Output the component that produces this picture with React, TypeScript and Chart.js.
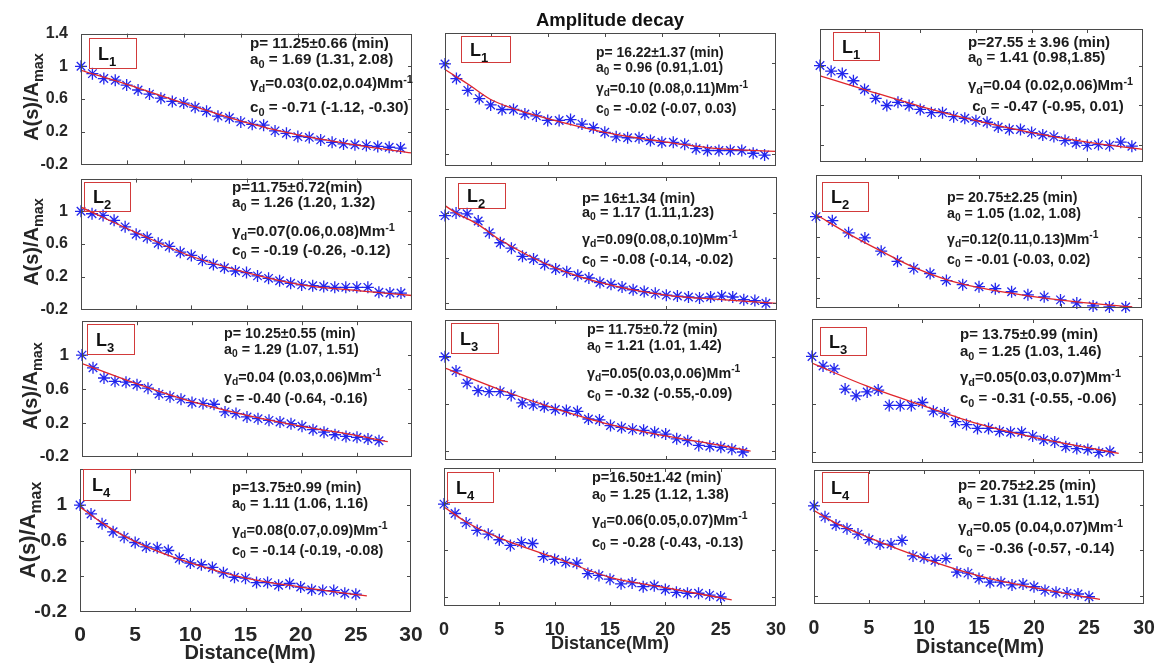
import React, { useEffect, useRef } from 'react';
import { Chart, registerables } from 'chart.js';

Chart.register(...registerables);

const FF = "'Liberation Sans', Arial, Helvetica, sans-serif";

// ---------- distances (Mm) ----------
const dist1to29 = [1, 2, 3, 4, 5, 6, 7, 8, 9, 10, 11, 12, 13, 14, 15, 16, 17, 18, 19, 20, 21, 22, 23, 24, 25, 26, 27, 28, 29];
const dist0to29 = [0, 1, 2, 3, 4, 5, 6, 7, 8, 9, 10, 11, 12, 13, 14, 15, 16, 17, 18, 19, 20, 21, 22, 23, 24, 25, 26, 27, 28, 29];
const dist0to19 = [0, 1, 2, 3, 4, 5, 6, 7, 8, 9, 10, 11, 12, 13, 14, 15, 16, 17, 18, 19];
const dist0to27 = [0, 1, 2, 3, 4, 5, 6, 7, 8, 9, 10, 11, 12, 13, 14, 15, 16, 17, 18, 19, 20, 21, 22, 23, 24, 25, 26, 27];
const dist0to25 = [0, 1, 2, 3, 4, 5, 6, 7, 8, 9, 10, 11, 12, 13, 14, 15, 16, 17, 18, 19, 20, 21, 22, 23, 24, 25];

// ---------- normalised amplitudes A(s)/Amax ----------
const ampR1L = [1.00, 0.91, 0.85, 0.83, 0.77, 0.71, 0.66, 0.61, 0.57, 0.55, 0.50, 0.45, 0.39, 0.37, 0.32, 0.29, 0.28, 0.21, 0.18, 0.14, 0.13, 0.10, 0.07, 0.05, 0.04, 0.03, 0.02, 0.01, 0.00];
const ampR1M = [0.99, 0.83, 0.70, 0.61, 0.54, 0.49, 0.49, 0.44, 0.42, 0.37, 0.37, 0.38, 0.33, 0.29, 0.24, 0.19, 0.18, 0.18, 0.15, 0.13, 0.13, 0.11, 0.06, 0.04, 0.04, 0.04, 0.04, 0.01, -0.01];
const ampR1R = [1.00, 0.93, 0.90, 0.81, 0.70, 0.59, 0.50, 0.54, 0.50, 0.45, 0.41, 0.41, 0.36, 0.34, 0.31, 0.29, 0.23, 0.20, 0.20, 0.16, 0.13, 0.11, 0.06, 0.03, 0.00, 0.01, 0.00, 0.04, -0.01];
const ampR2L = [1.00, 0.97, 0.95, 0.89, 0.81, 0.72, 0.68, 0.61, 0.57, 0.50, 0.46, 0.40, 0.35, 0.31, 0.27, 0.25, 0.21, 0.18, 0.15, 0.12, 0.10, 0.09, 0.08, 0.07, 0.07, 0.07, 0.07, 0.01, 0.00, 0.00];
const ampR2M = [0.97, 1.00, 0.99, 0.91, 0.78, 0.67, 0.61, 0.52, 0.49, 0.43, 0.38, 0.35, 0.31, 0.28, 0.23, 0.21, 0.18, 0.15, 0.13, 0.11, 0.09, 0.08, 0.07, 0.06, 0.07, 0.08, 0.07, 0.04, 0.03, 0.00];
const ampR2R = [1.00, 0.96, 0.84, 0.79, 0.66, 0.56, 0.49, 0.44, 0.37, 0.33, 0.31, 0.29, 0.26, 0.23, 0.21, 0.18, 0.15, 0.12, 0.11, 0.11];
const ampR3L = [1.00, 0.85, 0.73, 0.69, 0.68, 0.65, 0.61, 0.54, 0.51, 0.48, 0.44, 0.43, 0.42, 0.33, 0.31, 0.27, 0.25, 0.23, 0.21, 0.19, 0.16, 0.12, 0.09, 0.06, 0.04, 0.03, 0.01, -0.01];
const ampR3M = [1.00, 0.85, 0.72, 0.64, 0.63, 0.63, 0.59, 0.51, 0.49, 0.47, 0.44, 0.43, 0.42, 0.34, 0.33, 0.27, 0.25, 0.23, 0.22, 0.20, 0.18, 0.13, 0.11, 0.06, 0.05, 0.04, 0.02, -0.01];
const ampR3R = [1.00, 0.90, 0.87, 0.66, 0.59, 0.63, 0.65, 0.49, 0.49, 0.49, 0.52, 0.43, 0.41, 0.32, 0.29, 0.25, 0.25, 0.22, 0.21, 0.21, 0.17, 0.13, 0.11, 0.06, 0.04, 0.03, 0.00, 0.01];
const ampR4L = [1.00, 0.90, 0.79, 0.70, 0.64, 0.58, 0.53, 0.52, 0.49, 0.40, 0.35, 0.33, 0.30, 0.24, 0.19, 0.18, 0.13, 0.13, 0.10, 0.12, 0.08, 0.05, 0.04, 0.04, 0.01, 0.00];
const ampR4M = [0.99, 0.89, 0.79, 0.71, 0.67, 0.61, 0.55, 0.58, 0.57, 0.43, 0.40, 0.37, 0.36, 0.25, 0.23, 0.19, 0.14, 0.15, 0.11, 0.12, 0.08, 0.05, 0.04, 0.04, 0.02, 0.00];
const ampR4R = [0.99, 0.87, 0.78, 0.74, 0.68, 0.62, 0.57, 0.57, 0.61, 0.44, 0.42, 0.39, 0.41, 0.26, 0.25, 0.19, 0.15, 0.15, 0.12, 0.13, 0.10, 0.06, 0.04, 0.03, 0.02, -0.01];

// ---------- fitted curves ----------
const fitXR1L = [1, 5, 10, 15, 20, 25, 30];
const fitYR1L = [0.95, 0.78, 0.55, 0.33, 0.16, 0.04, -0.06];
const fitXR1M = [1, 2, 3, 5, 7, 10, 15, 20, 25, 30];
const fitYR1M = [0.93, 0.85, 0.77, 0.60, 0.50, 0.39, 0.24, 0.14, 0.06, 0.03];
const fitXR1R = [1, 5, 10, 15, 20, 25, 30];
const fitYR1R = [0.87, 0.70, 0.49, 0.31, 0.16, 0.04, -0.05];
const fitXR2L = [0, 5, 10, 15, 20, 25, 30];
const fitYR2L = [1.05, 0.74, 0.45, 0.25, 0.10, 0.03, -0.03];
const fitXR2M = [0, 1, 3, 5, 10, 15, 20, 25, 30];
const fitYR2M = [1.08, 1.00, 0.87, 0.70, 0.39, 0.20, 0.09, 0.04, 0.00];
const fitXR2R = [0, 2, 4, 6, 8, 10, 13, 16, 19.4];
const fitYR2R = [1.02, 0.83, 0.66, 0.50, 0.38, 0.30, 0.22, 0.16, 0.11];
const fitXR3L = [0, 5, 10, 15, 20, 25, 27.8];
const fitYR3L = [0.90, 0.66, 0.45, 0.29, 0.16, 0.05, -0.02];
const fitXR3M = [0, 5, 10, 15, 20, 25, 27.7];
const fitYR3M = [0.88, 0.65, 0.45, 0.28, 0.16, 0.06, 0.00];
const fitXR3R = [0, 5, 10, 15, 20, 25, 27.8];
const fitYR3R = [0.93, 0.69, 0.49, 0.30, 0.16, 0.05, -0.01];
const fitXR4L = [0, 2, 5, 10, 15, 20, 26];
const fitYR4L = [0.98, 0.80, 0.59, 0.35, 0.18, 0.08, -0.02];
const fitXR4M = [0, 2, 5, 10, 15, 20, 26];
const fitYR4M = [0.96, 0.80, 0.63, 0.42, 0.21, 0.10, -0.03];
const fitXR4R = [0, 2, 5, 10, 15, 20, 26];
const fitYR4R = [0.94, 0.80, 0.64, 0.41, 0.22, 0.09, -0.04];

// ---------- ticks ----------
const yTicksLeft = [-0.2, 0.2, 0.6, 1, 1.4];
const yTicksHalf = [0, 0.5, 1];
const yTicksFifth = [0.2, 0.4, 0.6, 0.8, 1];
const xTicksFives = [5, 10, 15, 20, 25];
const xTicksTens = [10, 20];
const xTicksShort = [5, 10, 15];
const xTicksLabelled = [0, 5, 10, 15, 20, 25, 30];

// ---------- fit annotations ----------
const notesR1L = ['p= 11.25±0.66 (min)', ' = 1.69 (1.31, 2.08)', '=0.03(0.02,0.04)Mm', ' = -0.71 (-1.12, -0.30)'];
const notesR1M = ['p= 16.22±1.37 (min)', ' = 0.96 (0.91,1.01)', '=0.10 (0.08,0.11)Mm', ' = -0.02 (-0.07, 0.03)'];
const notesR1R = ['p=27.55 ± 3.96 (min)', ' = 1.41 (0.98,1.85)', '=0.04 (0.02,0.06)Mm', ' = -0.47 (-0.95, 0.01)'];
const notesR2L = ['p=11.75±0.72(min)', ' = 1.26 (1.20, 1.32)', '=0.07(0.06,0.08)Mm', ' = -0.19 (-0.26, -0.12)'];
const notesR2M = ['p= 16±1.34 (min)', ' = 1.17 (1.11,1.23)', '=0.09(0.08,0.10)Mm', ' = -0.08 (-0.14, -0.02)'];
const notesR2R = ['p= 20.75±2.25 (min)', ' = 1.05 (1.02, 1.08)', '=0.12(0.11,0.13)Mm', ' = -0.01 (-0.03, 0.02)'];
const notesR3L = ['p= 10.25±0.55 (min)', ' = 1.29 (1.07, 1.51)', '=0.04 (0.03,0.06)Mm', ' = -0.40 (-0.64, -0.16)'];
const notesR3M = ['p= 11.75±0.72 (min)', ' = 1.21 (1.01, 1.42)', '=0.05(0.03,0.06)Mm', ' = -0.32 (-0.55,-0.09)'];
const notesR3R = ['p= 13.75±0.99 (min)', ' = 1.25 (1.03, 1.46)', '=0.05(0.03,0.07)Mm', ' = -0.31 (-0.55, -0.06)'];
const notesR4L = ['p=13.75±0.99 (min)', ' = 1.11 (1.06, 1.16)', '=0.08(0.07,0.09)Mm', ' = -0.14 (-0.19, -0.08)'];
const notesR4M = ['p=16.50±1.42 (min)', ' = 1.25 (1.12, 1.38)', '=0.06(0.05,0.07)Mm', ' = -0.28 (-0.43, -0.13)'];
const notesR4R = ['p= 20.75±2.25 (min)', ' = 1.31 (1.12, 1.51)', '=0.05 (0.04,0.07)Mm', ' = -0.36 (-0.57, -0.14)'];

const loopLabels = ['1', '2', '3', '4'];

type PanelDef = {
  row: number; col: number;
  L: number; T: number; R: number; B: number;
  xMin: number; xMax: number; yMin: number; yMax: number;
  xs: number[]; ys: number[]; fitX: number[]; fitY: number[];
  xTicks: number[]; yTicks: number[];
  notes: string[]; noteX: number; noteY: number[]; noteSize: number;
  cLetter: string; cSub: string;
  box: number[];
};

const panels: PanelDef[] = [
  { row: 0, col: 0, L: 81, T: 33, R: 412, B: 167, xMin: 1, xMax: 30, yMin: -0.2, yMax: 1.4, xs: dist1to29, ys: ampR1L, fitX: fitXR1L, fitY: fitYR1L, xTicks: xTicksFives, yTicks: yTicksLeft, notes: notesR1L, noteX: 250, noteY: [43, 59, 83, 107], noteSize: 15.2, cLetter: 'c', cSub: '0', box: [89, 38, 137, 69] },
  { row: 0, col: 1, L: 445, T: 33, R: 776, B: 166, xMin: 1, xMax: 30, yMin: -0.13, yMax: 1.33, xs: dist1to29, ys: ampR1M, fitX: fitXR1M, fitY: fitYR1M, xTicks: xTicksFives, yTicks: yTicksHalf, notes: notesR1M, noteX: 596, noteY: [52, 67, 88, 108], noteSize: 13.9, cLetter: 'c', cSub: '0', box: [461, 36, 511, 63] },
  { row: 0, col: 2, L: 820, T: 29, R: 1143, B: 162, xMin: 1, xMax: 30, yMin: -0.208, yMax: 1.458, xs: dist1to29, ys: ampR1R, fitX: fitXR1R, fitY: fitYR1R, xTicks: xTicksFives, yTicks: yTicksHalf, notes: notesR1R, noteX: 968, noteY: [42, 57, 85, 106], noteSize: 15, cLetter: ' c', cSub: '0', box: [833, 32, 880, 61] },
  { row: 1, col: 0, L: 81, T: 178, R: 412, B: 312, xMin: 0, xMax: 30, yMin: -0.2, yMax: 1.4, xs: dist0to29, ys: ampR2L, fitX: fitXR2L, fitY: fitYR2L, xTicks: xTicksFives, yTicks: yTicksLeft, notes: notesR2L, noteX: 232, noteY: [187, 202, 231, 250], noteSize: 15.2, cLetter: 'c', cSub: '0', box: [84, 182, 131, 212] },
  { row: 1, col: 1, L: 445, T: 177, R: 777, B: 310, xMin: 0, xMax: 30, yMin: -0.074, yMax: 1.397, xs: dist0to29, ys: ampR2M, fitX: fitXR2M, fitY: fitYR2M, xTicks: xTicksTens, yTicks: yTicksHalf, notes: notesR2M, noteX: 582, noteY: [198, 212, 239, 259], noteSize: 14.5, cLetter: 'c', cSub: '0', box: [458, 183, 506, 209] },
  { row: 1, col: 2, L: 816, T: 175, R: 1142, B: 308, xMin: 0, xMax: 20, yMin: 0.10, yMax: 1.41, xs: dist0to19, ys: ampR2R, fitX: fitXR2R, fitY: fitYR2R, xTicks: xTicksShort, yTicks: yTicksFifth, notes: notesR2R, noteX: 947, noteY: [197, 213, 239, 259], noteSize: 14.2, cLetter: 'c', cSub: '0', box: [822, 182, 869, 212] },
  { row: 2, col: 0, L: 82, T: 320, R: 412, B: 460, xMin: 0, xMax: 30, yMin: -0.2, yMax: 1.4, xs: dist0to27, ys: ampR3L, fitX: fitXR3L, fitY: fitYR3L, xTicks: xTicksFives, yTicks: yTicksLeft, notes: notesR3L, noteX: 224, noteY: [333, 349, 377, 398], noteSize: 14.3, cLetter: 'c', cSub: '', box: [87, 324, 135, 355] },
  { row: 2, col: 1, L: 445, T: 320, R: 776, B: 460, xMin: 0, xMax: 30, yMin: -0.095, yMax: 1.39, xs: dist0to27, ys: ampR3M, fitX: fitXR3M, fitY: fitYR3M, xTicks: xTicksTens, yTicks: yTicksHalf, notes: notesR3M, noteX: 587, noteY: [329, 345, 373, 393], noteSize: 14.3, cLetter: 'c', cSub: '0', box: [451, 323, 499, 354] },
  { row: 2, col: 2, L: 812, T: 319, R: 1143, B: 463, xMin: 0, xMax: 30, yMin: -0.11, yMax: 1.39, xs: dist0to27, ys: ampR3R, fitX: fitXR3R, fitY: fitYR3R, xTicks: xTicksTens, yTicks: yTicksHalf, notes: notesR3R, noteX: 960, noteY: [334, 351, 377, 398], noteSize: 15, cLetter: 'c', cSub: '0', box: [820, 327, 867, 356] },
  { row: 3, col: 0, L: 80, T: 467, R: 411, B: 612, xMin: 0, xMax: 30, yMin: -0.2, yMax: 1.4, xs: dist0to25, ys: ampR4L, fitX: fitXR4L, fitY: fitYR4L, xTicks: xTicksLabelled, yTicks: yTicksLeft, notes: notesR4L, noteX: 232, noteY: [487, 503, 530, 550], noteSize: 14.5, cLetter: 'c', cSub: '0', box: [83, 469, 131, 501] },
  { row: 3, col: 1, L: 444, T: 468, R: 776, B: 606, xMin: 0, xMax: 30, yMin: -0.096, yMax: 1.375, xs: dist0to25, ys: ampR4M, fitX: fitXR4M, fitY: fitYR4M, xTicks: xTicksLabelled, yTicks: yTicksHalf, notes: notesR4M, noteX: 592, noteY: [477, 494, 520, 542], noteSize: 14.5, cLetter: 'c', cSub: '0', box: [447, 472, 494, 503] },
  { row: 3, col: 2, L: 814, T: 470, R: 1144, B: 604, xMin: 0, xMax: 30, yMin: -0.09, yMax: 1.386, xs: dist0to25, ys: ampR4R, fitX: fitXR4R, fitY: fitYR4R, xTicks: xTicksLabelled, yTicks: yTicksHalf, notes: notesR4R, noteX: 958, noteY: [485, 500, 527, 548], noteSize: 15, cLetter: 'c', cSub: '0', box: [822, 472, 869, 503] },
];

// per-row font size of the left y tick labels, per-column bottom tick label size
const yLabelSize = [16, 16, 17, 19];
const xLabelSize = [21, 18, 19.5];
const xLabelPad = [3, 5, 5];
const yTitle = [
  { cx: 31, cy: 97, size: 20 },
  { cx: 31, cy: 242, size: 20 },
  { cx: 30, cy: 386, size: 20 },
  { cx: 28, cy: 530, size: 22 },
];
const xTitle = [
  { cx: 250, cy: 652, size: 20 },
  { cx: 610, cy: 643, size: 18 },
  { cx: 980, cy: 647, size: 19.5 },
];

const matlabBox = {
  id: 'matlabBox',
  afterDatasetsDraw(chart: any) {
    const { ctx, chartArea: a, scales } = chart;
    const xs = scales.x;
    const ys = scales.y;
    const tl = 4;
    ctx.save();
    ctx.strokeStyle = '#4a4a4a';
    ctx.lineWidth = 1;
    ctx.strokeRect(Math.round(a.left) + 0.5, Math.round(a.top) + 0.5, Math.round(a.right - a.left) - 1, Math.round(a.bottom - a.top) - 1);
    ctx.beginPath();
    xs.ticks.forEach((t: any) => {
      if (t.value <= xs.min || t.value >= xs.max) return;
      const px = Math.round(xs.getPixelForValue(t.value)) + 0.5;
      ctx.moveTo(px, a.bottom);
      ctx.lineTo(px, a.bottom - tl);
      ctx.moveTo(px, a.top);
      ctx.lineTo(px, a.top + tl);
    });
    ys.ticks.forEach((t: any) => {
      if (t.value <= ys.min || t.value >= ys.max) return;
      const py = Math.round(ys.getPixelForValue(t.value)) + 0.5;
      ctx.moveTo(a.left, py);
      ctx.lineTo(a.left + tl, py);
      ctx.moveTo(a.right, py);
      ctx.lineTo(a.right - tl, py);
    });
    ctx.stroke();
    ctx.restore();
  },
};

function PanelChart({ p }: { p: PanelDef }) {
  const ref = useRef<HTMLCanvasElement | null>(null);
  const padL = p.col === 0 ? 70 : 24;
  const padT = 14;
  const padR = 18;
  const padB = p.row === 3 ? 44 : 12;
  const W = p.R - p.L + padL + padR;
  const H = p.B - p.T + padT + padB;
  useEffect(() => {
    if (!ref.current) return;
    const pts = p.xs.map((x, i) => ({ x, y: p.ys[i] }));
    const fit = p.fitX.map((x, i) => ({ x, y: p.fitY[i] }));
    const chart = new Chart(ref.current, {
      type: 'scatter',
      data: {
        datasets: [
          {
            type: 'line',
            data: fit,
            borderColor: '#e0262b',
            borderWidth: 1.3,
            pointRadius: 0,
            fill: false,
            cubicInterpolationMode: 'monotone',
            order: 0,
          } as any,
          {
            type: 'scatter',
            data: pts,
            pointStyle: 'star',
            pointRadius: 6,
            borderColor: 'rgba(15,20,235,0.92)',
            backgroundColor: 'rgba(0,0,0,0)',
            borderWidth: 1.3,
            order: 1,
            clip: false,
          } as any,
        ],
      },
      options: {
        animation: false,
        responsive: false,
        maintainAspectRatio: false,
        devicePixelRatio: 1,
        events: [],
        layout: { padding: { left: 0, right: padR, top: padT, bottom: 0 } },
        plugins: { legend: { display: false }, tooltip: { enabled: false }, title: { display: false } },
        scales: {
          x: {
            type: 'linear',
            position: 'bottom',
            min: p.xMin,
            max: p.xMax,
            grid: { display: false },
            border: { display: false },
            afterBuildTicks: (s: any) => { s.ticks = p.xTicks.map((v) => ({ value: v })); },
            afterFit: (s: any) => { s.height = padB; },
            ticks: {
              display: p.row === 3,
              autoSkip: false,
              maxRotation: 0,
              minRotation: 0,
              padding: xLabelPad[p.col],
              color: '#262626',
              font: { family: FF, size: xLabelSize[p.col], weight: 'bold' },
              callback: (v: any) => String(v),
            },
          },
          y: {
            type: 'linear',
            min: p.yMin,
            max: p.yMax,
            grid: { display: false },
            border: { display: false },
            afterBuildTicks: (s: any) => { s.ticks = p.yTicks.map((v) => ({ value: v })); },
            afterFit: (s: any) => { s.width = padL; },
            ticks: {
              display: p.col === 0,
              autoSkip: false,
              padding: 5,
              color: '#262626',
              font: { family: FF, size: yLabelSize[p.row], weight: 'bold' },
              callback: (v: any) => (p.row > 0 && v === 1.4 ? '' : String(v)),
            },
          },
        },
      } as any,
      plugins: [matlabBox],
    });
    return () => chart.destroy();
  }, []);
  return (
    <canvas
      ref={ref}
      width={W}
      height={H}
      style={{ position: 'absolute', left: p.L - padL, top: p.T - padT, width: W, height: H }}
    />
  );
}

const subStyle: React.CSSProperties = { fontSize: '0.72em', position: 'relative', top: '0.38em', lineHeight: 0 };
const supStyle: React.CSSProperties = { fontSize: '0.72em', position: 'relative', top: '-0.5em', lineHeight: 0 };

function NoteLine({ x, cy, size, children }: { x: number; cy: number; size: number; children: React.ReactNode }) {
  const lh = Math.round(size * 1.2);
  return (
    <div
      style={{
        position: 'absolute', left: x, top: cy - lh / 2, fontSize: size, lineHeight: lh + 'px',
        fontWeight: 'bold', whiteSpace: 'pre', color: '#1c1c1c', fontFamily: FF,
      }}
    >
      {children}
    </div>
  );
}

function Notes({ p }: { p: PanelDef }) {
  const s = p.noteSize;
  return (
    <>
      <NoteLine x={p.noteX} cy={p.noteY[0]} size={s}>{p.notes[0]}</NoteLine>
      <NoteLine x={p.noteX} cy={p.noteY[1]} size={s}>a<span style={subStyle}>0</span>{p.notes[1]}</NoteLine>
      <NoteLine x={p.noteX} cy={p.noteY[2]} size={s}>γ<span style={subStyle}>d</span>{p.notes[2]}<span style={supStyle}>-1</span></NoteLine>
      <NoteLine x={p.noteX} cy={p.noteY[3]} size={s}>{p.cLetter}<span style={subStyle}>{p.cSub}</span>{p.notes[3]}</NoteLine>
    </>
  );
}

function LoopBox({ p }: { p: PanelDef }) {
  const [l, t, r, b] = p.box;
  return (
    <div
      style={{
        position: 'absolute', left: l, top: t, width: r - l, height: b - t, boxSizing: 'border-box',
        border: '1.3px solid #d23a3a', display: 'flex', alignItems: 'center', paddingLeft: 8,
        fontFamily: FF, fontWeight: 'bold', fontSize: 18, color: '#111', lineHeight: '20px',
      }}
    >
      <span>L<span style={{ fontSize: 13, position: 'relative', top: 6, lineHeight: 0 }}>{loopLabels[p.row]}</span></span>
    </div>
  );
}

export default function App() {
  return (
    <div style={{ position: 'absolute', left: 0, top: 0, width: 1157, height: 664, background: '#ffffff', overflow: 'hidden', fontFamily: FF }}>
      {panels.map((p, i) => (
        <PanelChart key={'c' + i} p={p} />
      ))}
      {panels.map((p, i) => (
        <React.Fragment key={'n' + i}>
          <Notes p={p} />
          <LoopBox p={p} />
        </React.Fragment>
      ))}
      {yTitle.map((t, i) => (
        <div
          key={'yt' + i}
          style={{
            position: 'absolute', left: t.cx, top: t.cy, transform: 'translate(-50%, -50%) rotate(-90deg)',
            whiteSpace: 'nowrap', fontWeight: 'bold', fontSize: t.size, color: '#262626', fontFamily: FF, lineHeight: 1,
          }}
        >
          A(s)/A<span style={subStyle}>max</span>
        </div>
      ))}
      {xTitle.map((t, i) => (
        <div
          key={'xt' + i}
          style={{
            position: 'absolute', left: t.cx, top: t.cy, transform: 'translate(-50%, -50%)',
            whiteSpace: 'nowrap', fontWeight: 'bold', fontSize: t.size, color: '#262626', fontFamily: FF, lineHeight: 1,
          }}
        >
          Distance(Mm)
        </div>
      ))}
      <div
        style={{
          position: 'absolute', left: 610, top: 20, transform: 'translate(-50%, -50%)', whiteSpace: 'nowrap',
          fontWeight: 'bold', fontSize: 18.5, color: '#111', fontFamily: FF, lineHeight: 1,
        }}
      >
        Amplitude decay
      </div>
    </div>
  );
}
